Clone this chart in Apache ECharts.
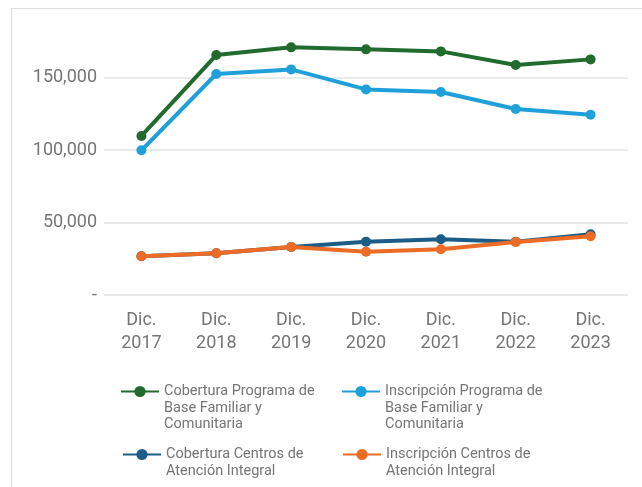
<!DOCTYPE html>
<html><head><meta charset="utf-8">
<script src="https://cdn.jsdelivr.net/npm/echarts@6/dist/echarts.min.js"></script>
<style>html,body{margin:0;padding:0;background:#fff}#c{width:642px;height:487px}</style>
</head><body><div id="c"></div>
<script>
const categories = ['Dic.\n2017','Dic.\n2018','Dic.\n2019','Dic.\n2020','Dic.\n2021','Dic.\n2022','Dic.\n2023'];
const coberturaBase = [109700, 165500, 170800, 169400, 168000, 158600, 162500];
const inscripcionBase = [99800, 152400, 155600, 141800, 140000, 128300, 124300];
const coberturaCentros = [26700, 28800, 33100, 36800, 38400, 36800, 41900];
const inscripcionCentros = [26700, 28800, 33100, 29900, 31500, 36500, 40500];
const seriesNames = [
  'Cobertura Programa de\nBase Familiar y\nComunitaria',
  'Inscripción Programa de\nBase Familiar y\nComunitaria',
  'Cobertura Centros de\nAtención Integral',
  'Inscripción Centros de\nAtención Integral'
];
const colors = ['#226b2f', '#20a0da', '#1b5d86', '#ec6b25'];

const chart = echarts.init(document.getElementById('c'));
const font = 'Roboto';
const LH = 16.5;
function mkSeries(i, data) {
  return {
    name: seriesNames[i], type: 'line', data: data,
    symbol: 'circle', symbolSize: 10,
    lineStyle: { width: 4, color: colors[i] },
    itemStyle: { color: colors[i] },
    z: 2 + i
  };
}
function mkLegend(i, left, top, lines) {
  const pad = (lines - 1) * LH;
  return {
    data: [seriesNames[i]], left: left, top: top, orient: 'horizontal',
    itemWidth: 38, itemHeight: 14, itemGap: 8, padding: 0,
    formatter: n => n.split('\n').map(s => '{t|' + s + '}').join('\n'),
    textStyle: {
      padding: [pad, 0, 0, 0],
      rich: { t: { fontFamily: font, fontSize: 14.5, color: '#757575', lineHeight: LH } }
    }
  };
}
chart.setOption({
  animation: false,
  backgroundColor: '#fff',
  textStyle: { fontFamily: font },
  graphic: [{
    type: 'rect', shape: { x: 11.5, y: 8.5, width: 800, height: 600 },
    style: { fill: 'none', stroke: '#dddddd', lineWidth: 1 }, silent: true, z: -1
  }],
  grid: { left: 104, right: 14, top: 5, bottom: 192 },
  xAxis: {
    type: 'category', data: categories, boundaryGap: true,
    axisLine: { show: false }, axisTick: { show: false },
    axisLabel: { fontFamily: font, fontSize: 18, color: '#757575', lineHeight: 23, margin: 14 }
  },
  yAxis: {
    type: 'value', min: 0, max: 200000, interval: 50000,
    axisLine: { show: false }, axisTick: { show: false },
    splitLine: { show: true, showMaxLine: false, lineStyle: { color: '#e3e3e3', width: 1.5 } },
    axisLabel: { fontFamily: font, fontSize: 18, color: '#757575', margin: 7, showMaxLabel: false,
      formatter: v => v === 0 ? '-' : v.toLocaleString('en-US') }
  },
  legend: [
    mkLegend(0, 120, 384, 3),
    mkLegend(1, 341, 384, 3),
    mkLegend(2, 122, 447, 2),
    mkLegend(3, 342, 447, 2)
  ],
  series: [
    mkSeries(0, coberturaBase),
    mkSeries(1, inscripcionBase),
    mkSeries(2, coberturaCentros),
    mkSeries(3, inscripcionCentros)
  ]
});
</script></body></html>
